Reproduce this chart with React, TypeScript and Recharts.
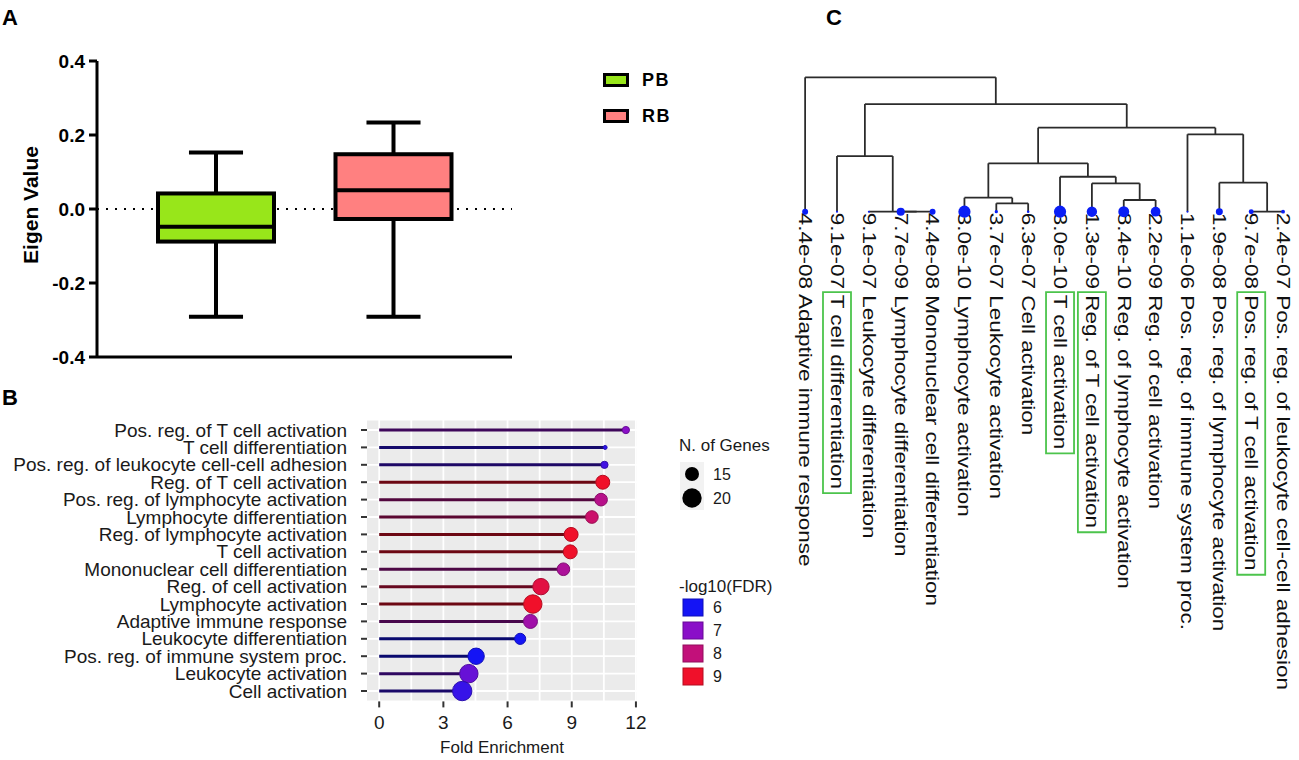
import React from 'react';
import { ComposedChart, Bar, XAxis, YAxis, CartesianGrid, ReferenceLine, Scatter, Label } from 'recharts';

const FONT = "'Liberation Sans', Arial, Helvetica, sans-serif";

// ---------- Panel A data ----------
const groups = ['PB', 'RB'];
const boxMin = [-0.291, -0.291];
const boxQ1 = [-0.088, -0.027];
const boxMedian = [-0.048, 0.051];
const boxQ3 = [0.042, 0.148];
const boxMax = [0.153, 0.234];
const boxColors = ['#98E61A', '#FF8080'];
const eigenTicks = [-0.4, -0.2, 0, 0.2, 0.4];
const zeroLine = [0];

// ---------- Panel B data ----------
const terms = [
  'Pos. reg. of T cell activation',
  'T cell differentiation',
  'Pos. reg. of leukocyte cell-cell adhesion',
  'Reg. of T cell activation',
  'Pos. reg. of lymphocyte activation',
  'Lymphocyte differentiation',
  'Reg. of lymphocyte activation',
  'T cell activation',
  'Mononuclear cell differentiation',
  'Reg. of cell activation',
  'Lymphocyte activation',
  'Adaptive immune response',
  'Leukocyte differentiation',
  'Pos. reg. of immune system proc.',
  'Leukocyte activation',
  'Cell activation',
];
const foldEnrichment = [11.53, 10.56, 10.53, 10.45, 10.37, 9.94, 8.97, 8.93, 8.61, 7.56, 7.18, 7.07, 6.59, 4.53, 4.19, 3.88];
const geneCounts = [11, 10, 11, 15, 14, 14, 15, 15, 14, 17, 19, 15, 13, 17, 19, 20];
const negLog10Fdr = [7.0, 6.2, 6.4, 9.0, 7.8, 8.2, 9.0, 9.0, 7.6, 8.7, 9.0, 7.4, 6.0, 6.0, 6.7, 6.3];
const foldTicks = [0, 3, 6, 9, 12];
const foldGridValues = [0, 1.5, 3, 4.5, 6, 7.5, 9, 10.5, 12];
const sizeLegendValues = [15, 20];
const fdrLegendValues = [6, 7, 8, 9];
const fdrStopColors = ['#1414F5', '#8A0FC8', '#C2107A', '#F0102A'];

// ---------- Panel C data ----------
const leafPValues = ['4.4e-08', '9.1e-07', '9.1e-07', '7.7e-09', '4.4e-08', '3.0e-10', '3.7e-07', '6.3e-07', '3.0e-10', '1.3e-09', '8.4e-10', '2.2e-09', '1.1e-06', '1.9e-08', '9.7e-08', '2.4e-07'];
const leafNames = [
  'Adaptive immune response',
  'T cell differentiation',
  'Leukocyte differentiation',
  'Lymphocyte differentiation',
  'Mononuclear cell differentiation',
  'Lymphocyte activation',
  'Leukocyte activation',
  'Cell activation',
  'T cell activation',
  'Reg. of T cell activation',
  'Reg. of lymphocyte activation',
  'Reg. of cell activation',
  'Pos. reg. of immune system proc.',
  'Pos. reg. of lymphocyte activation',
  'Pos. reg. of T cell activation',
  'Pos. reg. of leukocyte cell-cell adhesion',
];
const highlightedLeaves = ['T cell differentiation', 'T cell activation', 'Reg. of T cell activation', 'Pos. reg. of T cell activation'];
// linkage: node ids 0-15 leaves, 16+k = merge k
const mergeLeft = [3, 2, 1, 6, 5, 10, 9, 8, 20, 14, 13, 12, 24, 18, 0];
const mergeRight = [4, 16, 17, 7, 19, 11, 21, 22, 23, 15, 25, 26, 27, 28, 29];
const mergeHeight = [0, 0, 0.414, 0.0625, 0.104, 0.087, 0.211, 0.26, 0.36, 0, 0.216, 0.576, 0.625, 0.801, 1.0];

// ---------- helpers ----------
const hexToRgb = (h: string) => {
  const n = parseInt(h.slice(1), 16);
  return [(n >> 16) & 255, (n >> 8) & 255, n & 255];
};
const rgbStr = (c: number[], f = 1) => `rgb(${c.map((v) => Math.round(v * f)).join(',')})`;
const fdrRgb = (v: number) => {
  const cols = fdrStopColors.map(hexToRgb);
  if (v <= fdrLegendValues[0]) return cols[0];
  for (let i = 0; i < fdrLegendValues.length - 1; i++) {
    if (v <= fdrLegendValues[i + 1]) {
      const t = (v - fdrLegendValues[i]) / (fdrLegendValues[i + 1] - fdrLegendValues[i]);
      return cols[i].map((c, k) => c + (cols[i + 1][k] - c) * t);
    }
  }
  return cols[cols.length - 1];
};
const geneRadius = (n: number) => Math.sqrt(Math.max(1, 9 * n - 86));
const leafRadius = (p: string) => Math.max(1, 1 + 1.45 * (-Math.log10(parseFloat(p)) - 6));

let measureCtx: any = null;
const measure = (s: string, font: string) => {
  if (!measureCtx) measureCtx = document.createElement('canvas').getContext('2d');
  measureCtx.font = font;
  return measureCtx.measureText(s).width;
};

// ---------- tables ----------
const boxData = groups.map((g, i) => ({
  group: g,
  range: [boxMin[i], boxMax[i]],
  min: boxMin[i], q1: boxQ1[i], median: boxMedian[i], q3: boxQ3[i], max: boxMax[i],
  color: boxColors[i],
}));

const lollipopData = terms.map((t, i) => ({ term: t, fe: foldEnrichment[i], genes: geneCounts[i], fdr: negLog10Fdr[i] }));

const leafData = leafNames.map((n, i) => ({ x: i, y: 0, name: n, p: leafPValues[i] }));

const nodeX: number[] = leafNames.map((_, i) => i);
const nodeH: number[] = leafNames.map(() => 0);
const segments: { x1: number; y1: number; x2: number; y2: number }[] = [];
mergeLeft.forEach((l, k) => {
  const r = mergeRight[k];
  const h = mergeHeight[k];
  const xl = nodeX[l], xr = nodeX[r];
  if (h > nodeH[l]) segments.push({ x1: xl, y1: nodeH[l], x2: xl, y2: h });
  if (h > nodeH[r]) segments.push({ x1: xr, y1: nodeH[r], x2: xr, y2: h });
  segments.push({ x1: xl, y1: h, x2: xr, y2: h });
  nodeX.push((xl + xr) / 2);
  nodeH.push(h);
});

// ---------- shapes ----------
const BoxShape = (props: any) => {
  const { x, y, width, height, payload } = props;
  const top = Math.min(y, y + height);
  const bottom = Math.max(y, y + height);
  const py = (v: number) => bottom - ((v - payload.min) / (payload.max - payload.min)) * (bottom - top);
  const cx = x + width / 2;
  const cap = width * 0.233;
  const sw = 4;
  return (
    <g>
      <line x1={cx} x2={cx} y1={py(payload.max)} y2={py(payload.q3)} stroke="#000" strokeWidth={sw} />
      <line x1={cx} x2={cx} y1={py(payload.q1)} y2={py(payload.min)} stroke="#000" strokeWidth={sw} />
      <line x1={cx - cap} x2={cx + cap} y1={py(payload.max)} y2={py(payload.max)} stroke="#000" strokeWidth={sw} />
      <line x1={cx - cap} x2={cx + cap} y1={py(payload.min)} y2={py(payload.min)} stroke="#000" strokeWidth={sw} />
      <rect x={x} y={py(payload.q3)} width={width} height={py(payload.q1) - py(payload.q3)} fill={payload.color} stroke="#000" strokeWidth={sw} />
      <line x1={x} x2={x + width} y1={py(payload.median)} y2={py(payload.median)} stroke="#000" strokeWidth={sw} />
    </g>
  );
};

const Lollipop = (props: any) => {
  const { x, y, width, height, payload } = props;
  const cy = y + height / 2;
  const ex = x + width;
  const col = fdrRgb(payload.fdr);
  return (
    <g>
      <line x1={x} x2={ex} y1={cy} y2={cy} stroke={rgbStr(col, 0.45)} strokeWidth={3} />
      <circle cx={ex} cy={cy} r={geneRadius(payload.genes)} fill={rgbStr(col)} stroke={rgbStr(col, 0.75)} strokeWidth={1} />
    </g>
  );
};

const TermTick = (p: any) => (
  <text x={p.x} y={p.y} textAnchor="end" dominantBaseline="central" fontSize={19} fill="#1a1a1a" fontFamily={FONT}>
    {p.payload.value}
  </text>
);

const LeafShape = (props: any) => {
  const { cx, cy, payload } = props;
  if (cx == null || cy == null) return null;
  const fs = 18;
  const font = `${fs}px 'Liberation Sans'`;
  const prefix = payload.p + ' ';
  const hl = highlightedLeaves.includes(payload.name);
  const pw = measure(prefix, font);
  const nw = measure(payload.name, font);
  return (
    <g>
      <g transform={`translate(${cx},${cy + 1}) rotate(90) scale(1.25,1)`}>
        <text x={0} y={0} dominantBaseline="central" fontSize={fs} fontFamily={FONT} fill="#111">
          {prefix + payload.name}
        </text>
        {hl && (
          <rect x={pw - 2.5} y={-14} width={nw + 5} height={28} fill="none" stroke="#4CC44C" strokeWidth={1.8} vectorEffect="non-scaling-stroke" />
        )}
      </g>
      <circle cx={cx} cy={cy} r={leafRadius(payload.p)} fill="#0A1EF5" />
    </g>
  );
};

export default function App() {
  return (
    <div style={{ position: 'absolute', left: 0, top: 0, width: 1299, height: 760, background: '#fff', fontFamily: FONT, overflow: 'hidden' }}>
      {/* Panel A */}
      <div style={{ position: 'absolute', left: 0, top: 0 }}>
        <ComposedChart width={720} height={380} data={boxData} margin={{ top: 61, right: 208, bottom: 22, left: 0 }}>
          <CartesianGrid vertical={false} horizontalValues={zeroLine} stroke="#000" strokeWidth={2} strokeDasharray="2 7" />
          <XAxis dataKey="group" type="category" tick={false} tickLine={false} height={1} axisLine={{ stroke: '#000', strokeWidth: 3 }} padding={{ left: 30, right: 30 }} />
          <YAxis
            type="number"
            domain={[-0.4, 0.4]}
            ticks={eigenTicks}
            width={97}
            tickFormatter={(v: number) => v.toFixed(1)}
            tick={{ fontSize: 19, fontWeight: 700, fill: '#000', fontFamily: FONT }}
            tickLine={{ stroke: '#000', strokeWidth: 3 }}
            tickSize={8}
            tickMargin={4}
            axisLine={{ stroke: '#000', strokeWidth: 3 }}
          >
            <Label
              content={(p: any) => {
                const vb = p.viewBox;
                const lx = vb.x + 30;
                const ly = vb.y + vb.height / 2 - 4;
                return (
                  <text x={lx} y={ly} transform={`rotate(-90, ${lx}, ${ly})`} textAnchor="middle" dominantBaseline="central" fontSize={21} fontWeight={700} fontFamily={FONT} fill="#000">
                    Eigen Value
                  </text>
                );
              }}
            />
          </YAxis>
          <Bar dataKey="range" barSize={116} shape={BoxShape} isAnimationActive={false} />
        </ComposedChart>
      </div>

      {/* Panel B */}
      <div style={{ position: 'absolute', left: 0, top: 380 }}>
        <ComposedChart layout="vertical" width={800} height={380} data={lollipopData} margin={{ top: 39.6, right: 163, bottom: 3.6, left: 0 }}>
          <CartesianGrid fill="#EBEBEB" fillOpacity={1} stroke="#FFFFFF" strokeWidth={1.8} verticalValues={foldGridValues} />
          <XAxis
            type="number"
            domain={[-0.57, 12.05]}
            allowDataOverflow
            ticks={foldTicks}
            axisLine={false}
            tickLine={{ stroke: '#333', strokeWidth: 2 }}
            tickSize={6}
            tickMargin={8}
            height={55}
            tick={{ fontSize: 19, fill: '#1a1a1a', fontFamily: FONT }}
          >
            <Label value="Fold Enrichment" position="insideBottom" offset={3.4} style={{ fontSize: 17, fill: '#1a1a1a', fontFamily: FONT }} />
          </XAxis>
          <YAxis
            type="category"
            dataKey="term"
            width={367}
            interval={0}
            axisLine={false}
            tickLine={{ stroke: '#333', strokeWidth: 2 }}
            tickSize={6}
            tickMargin={14}
            padding={{ top: 1.7, bottom: 1.7 }}
            tick={TermTick}
          />
          <Bar dataKey="fe" shape={Lollipop} isAnimationActive={false} />
        </ComposedChart>
      </div>

      {/* Panel C */}
      <div style={{ position: 'absolute', left: 780, top: 0 }}>
        <ComposedChart width={519} height={760} margin={{ top: 77.3, right: 0, bottom: 548.3, left: 9.2 }}>
          <XAxis type="number" dataKey="x" domain={[-0.5, 15.5]} hide />
          <YAxis type="number" dataKey="y" domain={[0, 1]} hide />
          {segments.map((s, i) => (
            <ReferenceLine key={i} segment={[{ x: s.x1, y: s.y1 }, { x: s.x2, y: s.y2 }]} stroke="#2b2b2b" strokeWidth={1.8} ifOverflow="visible" />
          ))}
          <Scatter data={leafData} dataKey="y" shape={LeafShape} isAnimationActive={false} />
        </ComposedChart>
      </div>

      {/* Overlay: panel letters and legends */}
      <svg width={1299} height={760} style={{ position: 'absolute', left: 0, top: 0, pointerEvents: 'none' }}>
        <text x={2} y={25} fontSize={22} fontWeight={700} fontFamily={FONT} fill="#000">A</text>
        <text x={2} y={405} fontSize={22} fontWeight={700} fontFamily={FONT} fill="#000">B</text>
        <text x={826} y={25} fontSize={22} fontWeight={700} fontFamily={FONT} fill="#000">C</text>

        {/* Legend A */}
        {groups.map((g, i) => (
          <g key={g}>
            <rect x={604.5} y={74.5 + i * 36} width={23} height={11} fill={boxColors[i]} stroke="#000" strokeWidth={3} />
            <text x={642} y={80 + i * 36} dominantBaseline="central" fontSize={18} fontWeight={700} letterSpacing={1.5} fontFamily={FONT} fill="#000">{g}</text>
          </g>
        ))}

        {/* Legend B: size */}
        <text x={679} y={451} fontSize={17} fontFamily={FONT} fill="#1a1a1a">N. of Genes</text>
        <rect x={680} y={462} width={24} height={48} fill="#F2F2F2" />
        {sizeLegendValues.map((v, i) => (
          <g key={v}>
            <circle cx={692} cy={474 + i * 24} r={geneRadius(v)} fill="#000" />
            <text x={713} y={474 + i * 24} dominantBaseline="central" fontSize={16} fontFamily={FONT} fill="#1a1a1a">{v}</text>
          </g>
        ))}

        {/* Legend B: colour */}
        <text x={679} y={592} fontSize={17} fontFamily={FONT} fill="#1a1a1a">-log10(FDR)</text>
        {fdrLegendValues.map((v, i) => (
          <g key={v}>
            <rect x={683} y={599 + i * 23} width={20} height={17} fill={rgbStr(fdrRgb(v))} stroke={rgbStr(fdrRgb(v), 0.75)} strokeWidth={1} />
            <text x={713} y={607.5 + i * 23} dominantBaseline="central" fontSize={16} fontFamily={FONT} fill="#1a1a1a">{v}</text>
          </g>
        ))}
      </svg>
    </div>
  );
}
